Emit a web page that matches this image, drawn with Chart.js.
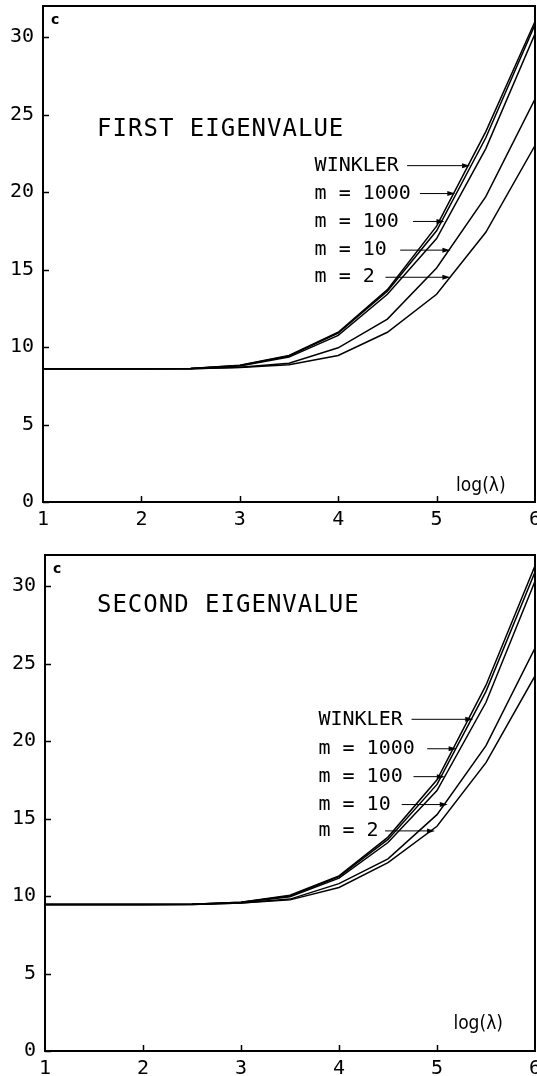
<!DOCTYPE html>
<html>
<head>
<meta charset="utf-8">
<script src="https://cdn.jsdelivr.net/npm/chart.js@4.4.0/dist/chart.umd.min.js"></script>
<style>
    body { margin: 0; background: #fff; width: 537px; height: 1076px; overflow: hidden; position: relative; }
    .box { position: absolute; left: 0; width: 537px; height: 527px; }
</style>
</head>
<body>
<div class="box" style="top:0"><canvas id="firstEigenChart"></canvas></div>
<div class="box" style="top:549px"><canvas id="secondEigenChart"></canvas></div>
<script>
// Data
const logLambda = [1, 1.5, 2, 2.5, 3, 3.5, 4, 4.5, 5, 5.5, 6];
const seriesNames = ['WINKLER', 'm = 1000', 'm = 100', 'm = 10', 'm = 2'];

const firstWinkler = [8.6, 8.6, 8.6, 8.62, 8.82, 9.45, 10.95, 13.7, 17.8, 23.9, 31.0];
const firstM1000   = [8.6, 8.6, 8.6, 8.62, 8.8, 9.42, 10.9, 13.6, 17.5, 23.5, 30.8];
const firstM100    = [8.6, 8.6, 8.6, 8.61, 8.78, 9.35, 10.75, 13.4, 17.0, 22.8, 30.2];
const firstM10     = [8.6, 8.6, 8.6, 8.6, 8.7, 8.95, 9.95, 11.8, 15.1, 19.7, 26.0];
const firstM2      = [8.6, 8.6, 8.6, 8.6, 8.68, 8.85, 9.45, 10.95, 13.4, 17.4, 23.0];

const secondWinkler = [9.45, 9.45, 9.45, 9.46, 9.6, 10.05, 11.3, 13.8, 17.5, 23.6, 31.3];
const secondM1000   = [9.45, 9.45, 9.45, 9.46, 9.6, 10.0, 11.25, 13.65, 17.2, 23.2, 30.9];
const secondM100    = [9.45, 9.45, 9.45, 9.46, 9.58, 9.95, 11.15, 13.45, 16.8, 22.5, 30.3];
const secondM10     = [9.45, 9.45, 9.45, 9.45, 9.55, 9.8, 10.8, 12.4, 15.25, 19.7, 26.0];
const secondM2      = [9.45, 9.45, 9.45, 9.45, 9.55, 9.75, 10.55, 12.15, 14.5, 18.6, 24.2];

const yTicks = [0, 5, 10, 15, 20, 25, 30];
const xTicks = [1, 2, 3, 4, 5, 6];

const monoFont = "'DejaVu Sans Mono', 'Liberation Mono', monospace";

// Frame, inward ticks and the text that sits inside the plot
const framePlugin = {
    id: 'frame',
    afterDatasetsDraw(chart, args, opts) {
        const { ctx, chartArea: a, scales: { x, y } } = chart;
        ctx.save();
        ctx.strokeStyle = '#000';
        ctx.fillStyle = '#000';
        ctx.lineWidth = 2;
        ctx.strokeRect(a.left, a.top, a.right - a.left, a.bottom - a.top);

        ctx.lineWidth = 1.5;
        ctx.beginPath();
        yTicks.forEach(v => {
            const py = Math.round(y.getPixelForValue(v)) + 0.5;
            ctx.moveTo(a.left, py);
            ctx.lineTo(a.left + 6, py);
        });
        xTicks.slice(1, -1).forEach(v => {
            const px = Math.round(x.getPixelForValue(v)) + 0.5;
            ctx.moveTo(px, a.bottom);
            ctx.lineTo(px, a.bottom - 6);
        });
        ctx.stroke();

        // "c" in the corner
        ctx.font = "bold 14px 'DejaVu Sans', sans-serif";
        ctx.textBaseline = 'middle';
        ctx.textAlign = 'left';
        ctx.fillText('c', a.left + 8, a.top + 14);

        // title
        ctx.font = '24px ' + monoFont;
        ctx.letterSpacing = '1px';
        ctx.fillText(opts.title, x.getPixelForValue(opts.titleAt[0]), y.getPixelForValue(opts.titleAt[1]));

        // series labels with arrows
        ctx.font = '20px ' + monoFont;
        ctx.letterSpacing = '0px';
        opts.arrows.forEach((arw, i) => {
            const py = y.getPixelForValue(arw.y);
            ctx.fillText(seriesNames[i], x.getPixelForValue(opts.labelX), py);
            const x0 = x.getPixelForValue(arw.from);
            const x1 = x.getPixelForValue(arw.to);
            ctx.lineWidth = 1;
            ctx.beginPath();
            ctx.moveTo(x0, py);
            ctx.lineTo(x1 - 6, py);
            ctx.stroke();
            ctx.beginPath();
            ctx.moveTo(x1, py);
            ctx.lineTo(x1 - 8, py - 2.5);
            ctx.lineTo(x1 - 8, py + 2.5);
            ctx.closePath();
            ctx.fill();
        });

        // axis name
        ctx.font = "19px 'DejaVu Sans Condensed', 'DejaVu Sans', sans-serif";
        ctx.textAlign = 'center';
        ctx.fillText('log(\u03bb)', x.getPixelForValue(opts.logAt[0]), y.getPixelForValue(opts.logAt[1]));
        ctx.restore();
    }
};

function makeDatasets(series) {
    return series.map((vals, i) => ({
        label: seriesNames[i],
        data: logLambda.map((lx, j) => ({ x: lx, y: vals[j] })),
        borderColor: '#000',
        borderWidth: 1.5,
        pointRadius: 0,
        tension: 0,
        fill: false
    }));
}

function makeConfig(series, axisWidth, frameOpts) {
    return {
        type: 'line',
        data: { datasets: makeDatasets(series) },
        options: {
            responsive: true,
            maintainAspectRatio: false,
            animation: false,
            layout: { padding: { top: 6, right: 2, left: 0, bottom: 0 } },
            scales: {
                x: {
                    type: 'linear',
                    min: 1,
                    max: 6,
                    grid: { display: false, drawTicks: false },
                    border: { display: false },
                    ticks: {
                        stepSize: 1,
                        padding: 6,
                        color: '#000',
                        font: { family: monoFont, size: 20 }
                    },
                    afterFit: scale => {
                        scale.height = 25;
                        scale.paddingLeft = 0;
                        scale.paddingRight = 0;
                    }
                },
                y: {
                    min: 0,
                    max: 32,
                    grid: { display: false, drawTicks: false },
                    border: { display: false },
                    ticks: {
                        stepSize: 5,
                        includeBounds: false,
                        padding: 9,
                        color: '#000',
                        font: { family: monoFont, size: 20 }
                    },
                    afterFit: scale => {
                        scale.width = axisWidth;
                        scale.paddingTop = 0;
                        scale.paddingBottom = 0;
                    }
                }
            },
            plugins: {
                legend: { display: false },
                tooltip: { enabled: false },
                frame: frameOpts
            }
        },
        plugins: [framePlugin]
    };
}

// First eigenvalue
const firstCtx = document.getElementById('firstEigenChart').getContext('2d');
new Chart(firstCtx, makeConfig(
    [firstWinkler, firstM1000, firstM100, firstM10, firstM2], 43, {
        title: 'FIRST EIGENVALUE',
        titleAt: [1.55, 24.0],
        labelX: 3.76,
        arrows: [
            { y: 21.7, from: 4.70, to: 5.34 },
            { y: 19.9, from: 4.83, to: 5.19 },
            { y: 18.1, from: 4.76, to: 5.08 },
            { y: 16.25, from: 4.63, to: 5.14 },
            { y: 14.5, from: 4.48, to: 5.14 }
        ],
        logAt: [5.45, 1.0]
    }
));

// Second eigenvalue
const secondCtx = document.getElementById('secondEigenChart').getContext('2d');
new Chart(secondCtx, makeConfig(
    [secondWinkler, secondM1000, secondM100, secondM10, secondM2], 45, {
        title: 'SECOND EIGENVALUE',
        titleAt: [1.53, 28.7],
        labelX: 3.79,
        arrows: [
            { y: 21.4, from: 4.74, to: 5.37 },
            { y: 19.5, from: 4.90, to: 5.20 },
            { y: 17.7, from: 4.76, to: 5.08 },
            { y: 15.9, from: 4.64, to: 5.11 },
            { y: 14.2, from: 4.47, to: 4.98 }
        ],
        logAt: [5.42, 1.75]
    }
));
</script>
</body>
</html>
